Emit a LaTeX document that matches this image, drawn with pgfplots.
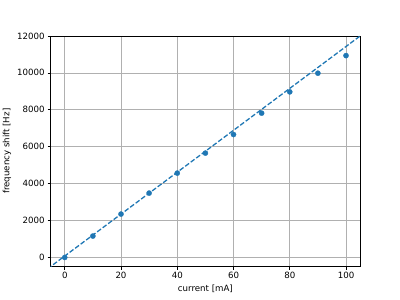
\documentclass[border=0pt]{standalone}
\usepackage{pgfplots}
\pgfplotsset{compat=1.18}
\usepackage{fontspec}
\setmainfont{DejaVu Sans}
\definecolor{mplblue}{HTML}{1F77B4}
\definecolor{gridgray}{HTML}{B0B0B0}
\begin{document}
\begin{tikzpicture}
\path (0,0) rectangle (6.4in,4.8in);
\begin{axis}[
  at={(0.125*6.4in,0.11*4.8in)}, anchor=south west,
  scale only axis, width=4.96in, height=3.696in,
  xmin=-5, xmax=105, ymin=-490, ymax=12000,
  xtick={0,20,...,100}, ytick={0,2000,...,12000},
  scaled y ticks=false,
  /pgf/number format/set thousands separator={},
  /pgf/number format/assume math mode=true,
  tick label style={font=\fontsize{10}{12}\selectfont, text=black},
  label style={font=\fontsize{10}{12}\selectfont},
  xlabel={current [mA]}, ylabel={frequency shift [Hz]},
  grid=major, major grid style={gridgray, line width=0.8pt},
  axis line style={black, line width=0.8pt},
  tick style={black, line width=0.8pt},
  tick align=outside, major tick length=3.5pt,
  xtick pos=bottom, ytick pos=left,
  clip=true,
]
\addplot[mplblue, line width=1.5pt, dash pattern=on 5.55pt off 2.4pt] coordinates {(-10,-1058) (110,12562)};
\addplot[only marks, mark=*, mark size=3pt, mplblue, mark options={draw=mplblue, fill=mplblue}] coordinates {
(0,0) (10,1158) (20,2349) (30,3486) (40,4568) (50,5651) (60,6658) (70,7816) (80,8969) (90,9981) (100,10934)};
\end{axis}
\end{tikzpicture}
\end{document}
